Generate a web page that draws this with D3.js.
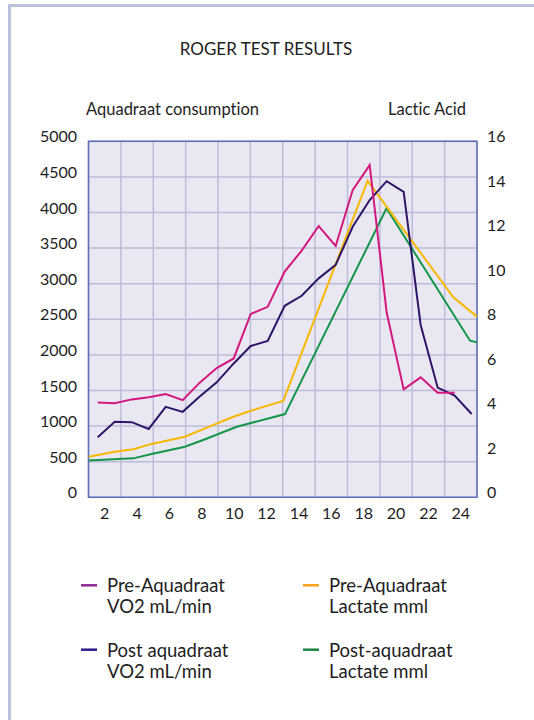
<!DOCTYPE html>
<html><head><meta charset="utf-8">
<script src="https://cdn.jsdelivr.net/npm/d3@7"></script>
<style>
html,body{margin:0;padding:0;background:#fff;}
svg{display:block;}
text{font-family:Lato, "Open Sans", sans-serif;fill:#1e1e1e;font-variant-ligatures:none;font-feature-settings:"liga" 0;}
</style></head>
<body>
<script>
// ---- data ----
const xTickLabels = [2,4,6,8,10,12,14,16,18,20,22,24];
const leftTicks = [0,500,1000,1500,2000,2500,3000,3500,4000,4500,5000];
const rightTicks = [0,2,4,6,8,10,12,14,16];
const xGrid = [1,3,5,7,9,11,13,15,17,19,21,23,25];

const vo2X = [1.57,2.62,3.67,4.72,5.77,6.82,7.87,8.92,9.97,11.02,12.07,13.12,14.17,15.22,16.27,17.32,18.37,19.42,20.47,21.52,22.57,23.62,24.67];
const preVO2 = [1330,1320,1375,1405,1450,1365,1610,1815,1950,2575,2675,3170,3465,3810,3530,4315,4665,2595,1515,1685,1470,1470];
const postVO2 = [845,1060,1055,960,1270,1200,1415,1615,1880,2125,2195,2690,2830,3075,3265,3800,4175,4440,4290,2420,1540,1430,1170];

const preLacX = [1.0,2.64,3.77,4.90,6.96,8.20,9.95,10.98,13.03,18.24,23.54,25.0];
const preLac = [1.82,2.05,2.16,2.40,2.72,3.10,3.62,3.88,4.33,14.22,8.99,8.12];
const postLacX = [1.0,3.77,4.90,6.96,8.20,10.16,10.98,13.14,19.41,24.57,25.0];
const postLac = [1.65,1.75,1.95,2.27,2.61,3.17,3.33,3.74,12.99,7.04,6.97];

const legendItems = [
  {l1:"Pre-Aquadraat", l2:"VO2 mL/min", color:"#8c2a92"},
  {l1:"Pre-Aquadraat", l2:"Lactate mml", color:"#f7a21b"},
  {l1:"Post aquadraat", l2:"VO2 mL/min", color:"#2a1d8c"},
  {l1:"Post-aquadraat", l2:"Lactate mml", color:"#1b8743"}
];

// ---- layout ----
const W = 534, H = 720;
const P = {l:88.5, r:477, t:141.3, b:497.3};

const svg = d3.select("body").append("svg").attr("width",W).attr("height",H);

// frame
svg.append("path").attr("d",`M9.5,${H} L9.5,5.5 L${W},5.5`)
  .attr("fill","none").attr("stroke","#bcc2dc").attr("stroke-width",3);

const x = d3.scaleLinear().domain([1,25]).range([P.l,P.r]);
const yL = d3.scaleLinear().domain([0,5000]).range([P.b,P.t]);
const yR = d3.scaleLinear().domain([0,16]).range([P.b,P.t]);

// plot bg
svg.append("rect").attr("x",P.l).attr("y",P.t).attr("width",P.r-P.l).attr("height",P.b-P.t)
  .attr("fill","#e9e7f1");

// grid
svg.append("g").selectAll("line").data(leftTicks).join("line")
  .attr("x1",P.l).attr("x2",P.r).attr("y1",d=>yL(d)).attr("y2",d=>yL(d))
  .attr("stroke","#bcbcd9").attr("stroke-width",1.5);
svg.append("g").selectAll("line").data(xGrid).join("line")
  .attr("x1",d=>x(d)).attr("x2",d=>x(d)).attr("y1",P.t).attr("y2",P.b)
  .attr("stroke","#bcbcd9").attr("stroke-width",1.5);

// border
svg.append("rect").attr("x",P.l).attr("y",P.t).attr("width",P.r-P.l).attr("height",P.b-P.t)
  .attr("fill","none").attr("stroke","#5d70b6").attr("stroke-width",1.5);

// lines
const clip = svg.append("clipPath").attr("id","clip").append("rect")
  .attr("x",P.l).attr("y",P.t-10).attr("width",P.r-P.l).attr("height",P.b-P.t+10);
const g = svg.append("g").attr("clip-path","url(#clip)");
function drawLine(xs, ys, yscale, color){
  const pts = ys.map((v,i)=>[x(xs[i]), yscale(v)]);
  g.append("path").attr("d", d3.line()(pts)).attr("fill","none")
    .attr("stroke",color).attr("stroke-width",2).attr("stroke-linejoin","miter");
}
drawLine(postLacX, postLac, yR, "#14964a");
drawLine(preLacX, preLac, yR, "#f6b800");
drawLine(vo2X, postVO2, yL, "#2f1568");
drawLine(vo2X, preVO2, yL, "#d4177e");

// axis labels
svg.append("g").selectAll("text").data(leftTicks).join("text")
  .attr("x",77).attr("y",d=>yL(d)+1).attr("text-anchor","end")
  .attr("font-size",16).text(d=>d);
svg.append("g").selectAll("text").data(rightTicks).join("text")
  .attr("x",487).attr("y",d=>yR(d)+1).attr("text-anchor","start")
  .attr("font-size",16).text(d=>d);
svg.append("g").selectAll("text").data(xTickLabels).join("text")
  .attr("x",d=>x(d)).attr("y",518.5).attr("text-anchor","middle")
  .attr("font-size",16).text(d=>d);

// titles
svg.append("text").attr("x",266).attr("y",55).attr("text-anchor","middle")
  .attr("font-size",17).text("ROGER TEST RESULTS");
svg.append("text").attr("x",86).attr("y",115).attr("font-size",16.5).text("Aquadraat consumption");
svg.append("text").attr("x",466).attr("y",115).attr("text-anchor","end").attr("font-size",16.5).text("Lactic Acid");

// legend
const lg = svg.append("g").selectAll("g").data(legendItems).join("g")
  .attr("transform",(d,i)=>`translate(${i%2? 303:81},${i<2?592.3:656.7})`);
lg.append("line").attr("x1",0).attr("x2",16).attr("y1",-7).attr("y2",-7)
  .attr("stroke",d=>d.color).attr("stroke-width",2.5);
lg.append("text").attr("x",26).attr("y",0).attr("font-size",18.5).text(d=>d.l1);
lg.append("text").attr("x",26).attr("y",21).attr("font-size",18.5).text(d=>d.l2);
</script>
</body></html>
